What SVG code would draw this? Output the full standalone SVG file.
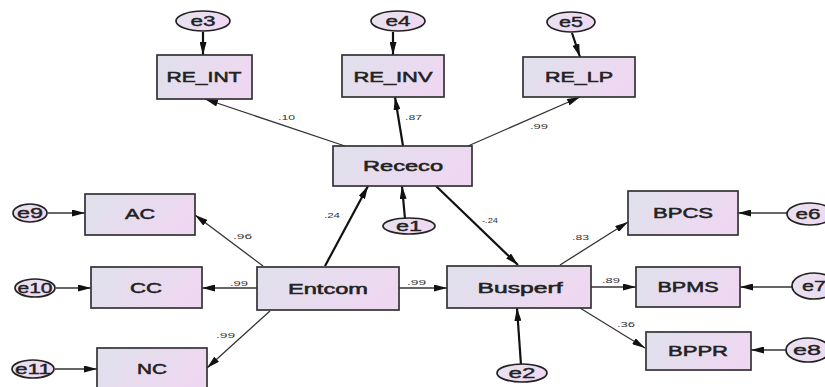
<svg xmlns="http://www.w3.org/2000/svg" width="825" height="387" viewBox="0 0 825 387">
<defs>
<linearGradient id="bg" x1="0" y1="0" x2="1" y2="0.3">
<stop offset="0" stop-color="#dfe1ec"/>
<stop offset="1" stop-color="#eed8f1"/>
</linearGradient>
<linearGradient id="eg" x1="0" y1="0" x2="1" y2="0.3">
<stop offset="0" stop-color="#e6e3ef"/>
<stop offset="1" stop-color="#efd9f2"/>
</linearGradient>
<marker id="ah" viewBox="0 0 13 7" refX="13" refY="3.5" markerWidth="13" markerHeight="7" orient="auto" markerUnits="userSpaceOnUse">
<path d="M0,0 L13,3.5 L0,7 z" fill="#111"/>
</marker>
</defs>
<style>
.box{fill:url(#bg);stroke:#333;stroke-width:1.7}
.err{fill:url(#eg);stroke:#222;stroke-width:1.7}
.lab{font-family:"Liberation Sans",Arial,sans-serif;font-size:14px;fill:#222;stroke:#222;stroke-width:0.5;text-anchor:middle}
.elab{font-family:"Liberation Sans",Arial,sans-serif;font-size:15px;fill:#222;stroke:#222;stroke-width:0.4;text-anchor:middle}
.co{font-family:"Liberation Sans",Arial,sans-serif;font-size:8px;fill:#333}
.thin{stroke:#333;stroke-width:1.3;fill:none;marker-end:url(#ah)}
.thick{stroke:#111;stroke-width:2.2;fill:none;marker-end:url(#ah)}
</style>
<rect width="825" height="387" fill="#fff"/>

<g id="connectors">
<line class="thick" x1="203" y1="32" x2="203" y2="55"/>
<line class="thick" x1="393" y1="32" x2="393" y2="55"/>
<line class="thick" x1="572" y1="33" x2="580" y2="57"/>
<line class="thin" x1="345" y1="146" x2="205" y2="99"/>
<line class="thick" x1="403" y1="146" x2="395" y2="97"/>
<line class="thin" x1="468" y1="146" x2="580" y2="97"/>
<line class="thick" x1="405" y1="219" x2="402" y2="186"/>
<line class="thick" x1="325" y1="266" x2="368" y2="186"/>
<line class="thick" x1="436" y1="186" x2="518" y2="265"/>
<line class="thin" x1="48" y1="213" x2="85" y2="213"/>
<line class="thin" x1="56" y1="288" x2="91" y2="288"/>
<line class="thin" x1="55" y1="369" x2="97" y2="369"/>
<line class="thin" x1="263" y1="266" x2="195" y2="215"/>
<line class="thin" x1="257" y1="288" x2="202" y2="288"/>
<line class="thin" x1="270" y1="311" x2="207" y2="368"/>
<line class="thin" x1="399" y1="288" x2="447" y2="288"/>
<line class="thick" x1="521" y1="365" x2="517" y2="308"/>
<line class="thin" x1="560" y1="265" x2="628" y2="222"/>
<line class="thin" x1="591" y1="287" x2="636" y2="287"/>
<line class="thin" x1="580" y1="308" x2="645" y2="348"/>
<line class="thin" x1="787" y1="213" x2="738" y2="213"/>
<line class="thin" x1="792" y1="287" x2="740" y2="287"/>
<line class="thin" x1="786" y1="350" x2="751" y2="350"/>
<text class="co" x="278" y="120" textLength="17" lengthAdjust="spacingAndGlyphs">.10</text>
<text class="co" x="405" y="120" textLength="17" lengthAdjust="spacingAndGlyphs">.87</text>
<text class="co" x="530" y="129" textLength="18" lengthAdjust="spacingAndGlyphs">.99</text>
<text class="co" x="324" y="218" textLength="16" lengthAdjust="spacingAndGlyphs">.24</text>
<text class="co" x="233" y="239" textLength="19" lengthAdjust="spacingAndGlyphs">.96</text>
<text class="co" x="230" y="286" textLength="18" lengthAdjust="spacingAndGlyphs">.99</text>
<text class="co" x="216" y="338" textLength="19" lengthAdjust="spacingAndGlyphs">.99</text>
<text class="co" x="407" y="285" textLength="19" lengthAdjust="spacingAndGlyphs">.99</text>
<text class="co" x="482" y="223" textLength="16" lengthAdjust="spacingAndGlyphs">-.24</text>
<text class="co" x="572" y="240" textLength="17" lengthAdjust="spacingAndGlyphs">.83</text>
<text class="co" x="602" y="283" textLength="18" lengthAdjust="spacingAndGlyphs">.89</text>
<text class="co" x="617" y="327" textLength="18" lengthAdjust="spacingAndGlyphs">.36</text>
</g>

<g id="RE_INT"><rect class="box" x="157" y="55" width="95" height="44"/><text class="lab" x="204" y="82" textLength="75" lengthAdjust="spacingAndGlyphs">RE_INT</text></g>
<g id="RE_INV"><rect class="box" x="342" y="55" width="102" height="42"/><text class="lab" x="393" y="82" textLength="79" lengthAdjust="spacingAndGlyphs">RE_INV</text></g>
<g id="RE_LP"><rect class="box" x="523" y="57" width="112" height="40"/><text class="lab" x="579" y="82" textLength="68" lengthAdjust="spacingAndGlyphs">RE_LP</text></g>
<g id="Receco"><rect class="box" x="333" y="146" width="139" height="40"/><text class="lab" x="403" y="171" textLength="80" lengthAdjust="spacingAndGlyphs">Receco</text></g>
<g id="AC"><rect class="box" x="85" y="194" width="110" height="41"/><text class="lab" x="140" y="219" textLength="30" lengthAdjust="spacingAndGlyphs">AC</text></g>
<g id="CC"><rect class="box" x="91" y="267" width="111" height="41"/><text class="lab" x="146" y="293" textLength="32" lengthAdjust="spacingAndGlyphs">CC</text></g>
<g id="Entcom"><rect class="box" x="257" y="267" width="142" height="43"/><text class="lab" x="328" y="294" textLength="80" lengthAdjust="spacingAndGlyphs">Entcom</text></g>
<g id="NC"><rect class="box" x="97" y="348" width="110" height="42"/><text class="lab" x="152" y="374" textLength="30" lengthAdjust="spacingAndGlyphs">NC</text></g>
<g id="Busperf"><rect class="box" x="447" y="266" width="144" height="42"/><text class="lab" x="520" y="293" textLength="85" lengthAdjust="spacingAndGlyphs">Busperf</text></g>
<g id="BPCS"><rect class="box" x="628" y="191" width="110" height="44"/><text class="lab" x="683" y="218" textLength="60" lengthAdjust="spacingAndGlyphs">BPCS</text></g>
<g id="BPMS"><rect class="box" x="636" y="267" width="104" height="40"/><text class="lab" x="688" y="292" textLength="61" lengthAdjust="spacingAndGlyphs">BPMS</text></g>
<g id="BPPR"><rect class="box" x="646" y="332" width="105" height="38"/><text class="lab" x="698" y="356" textLength="60" lengthAdjust="spacingAndGlyphs">BPPR</text></g>

<g id="e3"><ellipse class="err" cx="203" cy="21" rx="27" ry="10"/><text class="elab" x="203" y="26" textLength="25" lengthAdjust="spacingAndGlyphs">e3</text></g>
<g id="e4"><ellipse class="err" cx="398" cy="21" rx="27" ry="10"/><text class="elab" x="398" y="26" textLength="25" lengthAdjust="spacingAndGlyphs">e4</text></g>
<g id="e5"><ellipse class="err" cx="571" cy="22" rx="24" ry="10"/><text class="elab" x="571" y="27" textLength="24" lengthAdjust="spacingAndGlyphs">e5</text></g>
<g id="e1"><ellipse class="err" cx="409" cy="226" rx="26" ry="8"/><text class="elab" x="409" y="231" textLength="26" lengthAdjust="spacingAndGlyphs">e1</text></g>
<g id="e2"><ellipse class="err" cx="522" cy="373" rx="25" ry="9"/><text class="elab" x="522" y="378" textLength="27" lengthAdjust="spacingAndGlyphs">e2</text></g>
<g id="e9"><ellipse class="err" cx="30" cy="213" rx="17" ry="9"/><text class="elab" x="30" y="218" textLength="26" lengthAdjust="spacingAndGlyphs">e9</text></g>
<g id="e10"><ellipse class="err" cx="35" cy="288" rx="20" ry="9"/><text class="elab" x="35" y="293" textLength="35" lengthAdjust="spacingAndGlyphs">e10</text></g>
<g id="e11"><ellipse class="err" cx="33" cy="369" rx="21" ry="9"/><text class="elab" x="33" y="374" textLength="36" lengthAdjust="spacingAndGlyphs">e11</text></g>
<g id="e6"><ellipse class="err" cx="810" cy="214" rx="23" ry="11"/><text class="elab" x="808" y="219" textLength="25" lengthAdjust="spacingAndGlyphs">e6</text></g>
<g id="e7"><ellipse class="err" cx="814" cy="286" rx="22" ry="13"/><text class="elab" x="814" y="291" textLength="24" lengthAdjust="spacingAndGlyphs">e7</text></g>
<g id="e8"><ellipse class="err" cx="808" cy="350" rx="22" ry="12"/><text class="elab" x="807" y="355" textLength="28" lengthAdjust="spacingAndGlyphs">e8</text></g>
</svg>
